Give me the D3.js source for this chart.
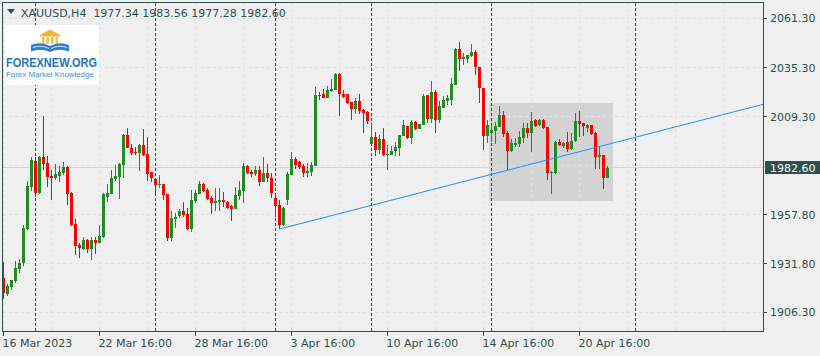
<!DOCTYPE html>
<html><head><meta charset="utf-8">
<script src="https://cdn.jsdelivr.net/npm/d3@7"></script>
<style>html,body{margin:0;padding:0;background:#f0f0f0;}svg{display:block}</style>
</head><body><svg id="c" width="820" height="356"></svg>
<script>
// ---- DATA (XAUUSD H4, bar index 0 = 16 Mar 2023 16:00) ----
const opens=[1924.6,1916.0,1919.8,1922.8,1929.2,1932.3,1950.2,1972.4,1986.1,1969.2,
1988.2,1985.0,1978.2,1977.1,1978.2,1979.8,1982.9,1969.2,1952.9,1941.8,
1939.7,1944.4,1939.7,1944.4,1942.9,1946.0,1967.1,1968.7,1976.6,1977.6,
1984.0,1999.8,1992.9,1990.8,1990.3,1994.5,1989.8,1980.3,1976.6,1973.4,
1974.0,1968.7,1945.5,1955.5,1957.1,1959.7,1958.1,1950.2,1965.0,1968.7,
1974.0,1970.8,1966.6,1963.9,1964.5,1965.5,1964.5,1962.4,1960.8,1967.6,
1970.3,1983.5,1980.3,1979.2,1981.3,1975.0,1979.8,1977.1,1966.6,1962.9,
1952.4,1965.5,1978.7,1987.1,1985.6,1983.5,1979.8,1980.3,1983.5,2020.9,
2021.4,2019.3,2023.0,2023.5,2031.9,2021.4,2021.4,2017.2,2013.5,2017.7,
2013.0,2011.9,1995.0,1998.7,1991.9,1997.7,1989.3,1989.3,1991.4,1992.9,
1999.3,2004.5,1998.2,2006.6,2003.0,2005.1,2020.9,2008.2,2022.5,2007.7,
2014.0,2017.7,2018.2,2026.1,2045.1,2039.9,2039.9,2041.4,2043.5,2035.6,
2024.6,1999.3,2000.8,2001.9,2004.0,2010.3,2000.8,1991.4,1994.5,1995.0,
1998.2,2003.5,2000.8,2007.7,2005.1,2007.7,2004.0,1979.8,1979.8,1996.1,
1994.0,1996.1,1992.4,1996.6,2007.2,2006.1,2003.5,2005.1,2000.8,1988.2,
1989.3,1977.34];
const highs=[1933.0,1921.2,1923.4,1933.4,1934.2,1952.3,1975.7,1988.2,1988.2,1988.7,
2010.0,1988.7,1981.3,1984.5,1983.4,1985.6,1983.4,1969.7,1955.5,1942.9,
1946.0,1944.9,1946.0,1946.0,1952.3,1969.2,1974.0,1981.3,1984.0,1985.0,
2000.3,2003.5,1995.0,1993.5,1995.0,2003.0,1998.7,1980.3,1977.1,1978.7,
1974.0,1968.7,1959.7,1958.7,1960.8,1964.5,1961.3,1970.8,1970.8,1975.5,
1974.5,1971.9,1967.6,1971.9,1971.9,1969.7,1965.0,1962.9,1972.4,1975.5,
1985.0,1984.0,1981.3,1983.5,1983.5,1988.2,1984.5,1979.8,1968.7,1965.5,
1961.8,1980.3,1990.8,1988.0,1986.0,1984.5,1985.0,1985.6,2025.1,2022.5,
2024.0,2025.6,2029.3,2032.5,2032.5,2023.5,2021.4,2017.2,2019.3,2021.4,
2013.5,2012.4,2006.6,2001.4,1999.8,2003.5,1994.5,1994.0,1996.1,1999.8,
2007.7,2004.5,2007.7,2007.2,2005.6,2021.4,2020.9,2028.3,2023.5,2017.7,
2020.4,2020.9,2029.8,2045.7,2048.8,2043.0,2042.0,2047.8,2044.6,2035.6,
2024.6,2007.7,2005.1,2006.6,2015.1,2012.4,2001.9,1997.7,1998.2,2001.9,
2006.1,2006.1,2011.9,2008.2,2008.2,2008.2,2004.0,1980.8,1996.6,1997.7,
1996.1,2001.4,2000.8,2011.4,2012.4,2006.1,2005.6,2005.1,2001.4,1994.0,
1989.3,1983.56];
const lows=[1913.3,1915.0,1918.1,1921.6,1927.0,1930.7,1949.7,1970.3,1967.3,1968.7,
1981.3,1972.4,1965.5,1976.1,1975.0,1978.7,1962.9,1951.8,1936.5,1935.0,
1939.2,1937.6,1933.9,1937.1,1942.9,1945.5,1964.5,1968.7,1975.5,1966.1,
1977.1,1992.9,1989.2,1989.2,1980.8,1988.7,1975.5,1975.0,1969.2,1971.8,
1965.5,1943.9,1943.9,1950.8,1956.0,1956.6,1949.7,1948.7,1963.9,1968.7,
1969.7,1965.5,1958.2,1959.7,1959.9,1962.0,1960.8,1954.5,1960.8,1965.5,
1963.9,1979.2,1977.7,1978.2,1972.9,1975.0,1975.0,1966.6,1956.6,1950.1,
1951.8,1962.9,1978.7,1981.9,1981.9,1977.7,1977.7,1978.2,1983.5,2018.2,
2019.3,2019.3,2022.5,2023.5,2009.8,2019.3,2016.1,2007.7,2010.9,2010.9,
2000.8,2005.6,1995.0,1988.7,1989.8,1988.7,1981.3,1989.3,1988.7,1988.7,
1999.3,1997.7,1995.0,2002.4,2003.0,2005.1,2006.1,2006.1,2000.8,2006.1,
2014.0,2015.6,2015.6,2026.1,2033.5,2036.7,2037.7,2040.9,2031.4,2016.7,
1991.9,1995.6,1996.1,1995.0,2004.0,1998.7,1981.3,1990.8,1993.5,1993.5,
1995.6,1998.2,1990.8,2004.0,2004.5,2003.0,1976.1,1968.7,1979.2,1994.0,
1992.9,1990.8,1991.9,1996.1,1998.7,1999.3,2001.4,1999.8,1981.9,1981.9,
1971.3,1977.28];
const closes=[1916.3,1920.2,1923.4,1929.7,1932.3,1950.8,1972.9,1986.6,1969.2,1988.2,
1984.5,1977.6,1977.1,1979.2,1980.3,1982.9,1968.7,1952.3,1941.3,1940.2,
1944.4,1939.7,1944.4,1942.9,1946.5,1968.7,1969.2,1977.1,1978.2,1984.5,
1999.8,1992.9,1990.3,1990.3,1994.5,1989.2,1979.2,1977.1,1973.4,1974.0,
1968.2,1945.5,1956.0,1956.6,1959.7,1957.6,1950.2,1965.5,1969.2,1974.0,
1970.3,1966.1,1963.9,1965.0,1965.5,1964.5,1961.3,1960.8,1968.2,1970.8,
1983.5,1979.8,1979.2,1981.3,1975.0,1979.8,1977.1,1969.2,1962.4,1952.4,
1961.3,1979.2,1987.1,1984.0,1982.9,1979.8,1980.8,1984.0,2020.9,2020.3,
2019.3,2023.5,2024.0,2031.9,2021.4,2019.8,2016.7,2013.5,2017.7,2012.4,
2011.4,2007.2,1998.7,1991.9,1997.7,1989.3,1989.8,1991.4,1993.5,1999.8,
2005.1,1998.2,2006.6,2003.0,2005.6,2020.4,2008.2,2022.5,2007.7,2015.1,
2018.2,2019.3,2026.7,2045.1,2039.9,2040.9,2042.0,2043.5,2035.6,2024.6,
1999.3,2005.1,2002.4,2004.5,2010.3,2000.3,1991.4,1995.6,1995.6,1998.7,
2003.5,2000.8,2007.2,2004.5,2007.7,2003.5,1979.8,1980.3,1996.1,1994.5,
1995.6,1992.4,1996.6,2007.2,2005.6,2004.5,2005.1,2000.3,1988.2,1989.3,
1977.1,1982.60];
const priceTicks=[2061.30,2035.30,2009.30,1983.80,1957.80,1931.80,1906.30];
const timeTickBars=[0,24,48,72,96,120,144];
const timeTickLabels=["16 Mar 2023","22 Mar 16:00","28 Mar 16:00","3 Apr 16:00","10 Apr 16:00","14 Apr 16:00","20 Apr 16:00"];
const separatorBars=[8,38,68,92,122,158];
const trendBars=[69,151], trendValues=[1950.2,1994.8];
const zoneBars=[121.4,152.4], zoneValues=[2016.6,1965.1];
const symbolText="XAUUSD,H4";
const lastPrice=1982.60;

// ---- SETUP ----
const svg=d3.select("#c");
const FONT="DejaVu Sans";
const INK="#2f4f4f";
const L=2.5,R=763.5,T=2.5,B=331.5;
const x=d3.scaleLinear().domain([0,190]).range([3.5,763.5]);
const y=d3.scaleLinear().domain([1906.3,2061.3]).range([312.3,18.3]);
const snap=v=>Math.floor(v)+0.5;

svg.append("rect").attr("width",820).attr("height",356).attr("fill","#f0f0f0");

svg.append("defs").append("clipPath").attr("id","plot")
  .append("rect").attr("x",L+0.5).attr("y",T+0.5).attr("width",R-L-1).attr("height",B-T-1);

const plot=svg.append("g").attr("clip-path","url(#plot)");

// zone rectangle (background object)
plot.append("rect")
  .attr("x",x(zoneBars[0])).attr("width",x(zoneBars[1])-x(zoneBars[0]))
  .attr("y",y(zoneValues[0])).attr("height",y(zoneValues[1])-y(zoneValues[0]))
  .attr("fill","#d3d3d3").attr("shape-rendering","crispEdges");

// grid
const gridBars=d3.range(0,191,12);
plot.selectAll(".vg").data(gridBars).join("line")
  .attr("x1",d=>x(d)).attr("x2",d=>x(d)).attr("y1",T).attr("y2",B)
  .attr("stroke","#e2e2e2").attr("stroke-dasharray","3,3").attr("shape-rendering","crispEdges");
plot.selectAll(".hg").data(priceTicks).join("line")
  .attr("x1",L).attr("x2",R).attr("y1",d=>snap(y(d))).attr("y2",d=>snap(y(d)))
  .attr("stroke","#e2e2e2").attr("stroke-dasharray","3,3").attr("shape-rendering","crispEdges");

// price line
plot.append("line").attr("x1",L).attr("x2",R)
  .attr("y1",snap(y(lastPrice))).attr("y2",snap(y(lastPrice)))
  .attr("stroke","#d6d6d6").attr("shape-rendering","crispEdges");

// period separators
plot.selectAll(".sep").data(separatorBars).join("line")
  .attr("x1",d=>x(d)).attr("x2",d=>x(d)).attr("y1",T).attr("y2",B)
  .attr("stroke",INK).attr("stroke-dasharray","3,2").attr("shape-rendering","crispEdges");

// candles
const bars=d3.range(opens.length);
const col=i=>closes[i]>=opens[i]?"#228b22":"#ff0000";
const cg=plot.append("g").attr("shape-rendering","crispEdges");
cg.selectAll(".wick").data(bars).join("line")
  .attr("x1",i=>x(i)).attr("x2",i=>x(i))
  .attr("y1",i=>y(highs[i])).attr("y2",i=>y(lows[i]))
  .attr("stroke",col);
cg.selectAll(".body").data(bars).join("rect")
  .attr("x",i=>x(i)-1.5).attr("width",3)
  .attr("y",i=>y(Math.max(opens[i],closes[i])))
  .attr("height",i=>Math.max(1,Math.abs(y(opens[i])-y(closes[i]))))
  .attr("fill",col);

// trend line (ray to the right)
const slope=(trendValues[1]-trendValues[0])/(trendBars[1]-trendBars[0]);
const endBar=x.domain()[1];
plot.append("line")
  .attr("x1",x(trendBars[0])).attr("y1",y(trendValues[0]))
  .attr("x2",x(endBar)).attr("y2",y(trendValues[0]+slope*(endBar-trendBars[0])))
  .attr("stroke","#1e90ff").attr("stroke-width",1);

// frame
svg.append("rect").attr("x",L).attr("y",T).attr("width",R-L).attr("height",B-T)
  .attr("fill","none").attr("stroke",INK).attr("shape-rendering","crispEdges");

// right price axis
const ya=svg.append("g");
const shown=priceTicks.filter(v=>Math.abs(y(v)-y(lastPrice))>9);
ya.selectAll("line").data(shown).join("line")
  .attr("x1",R).attr("x2",R+3).attr("y1",d=>snap(y(d))).attr("y2",d=>snap(y(d)))
  .attr("stroke",INK).attr("shape-rendering","crispEdges");
ya.selectAll("text").data(shown).join("text")
  .attr("x",770).attr("y",d=>y(d)+4)
  .attr("font-family",FONT).attr("font-size",11).attr("fill",INK)
  .text(d=>d3.format(".2f")(d));

// current price label
svg.append("rect").attr("x",765).attr("y",snap(y(lastPrice))-6.5).attr("width",55).attr("height",13).attr("fill",INK);
svg.append("text").attr("x",770).attr("y",y(lastPrice)+4).attr("font-family",FONT).attr("font-size",11)
  .attr("fill","#ffffff").text(d3.format(".2f")(lastPrice));

// bottom time axis
const xa=svg.append("g");
xa.selectAll("line").data(timeTickBars).join("line")
  .attr("x1",d=>x(d)).attr("x2",d=>x(d)).attr("y1",B).attr("y2",B+4)
  .attr("stroke",INK).attr("shape-rendering","crispEdges");
xa.selectAll("text").data(timeTickBars).join("text")
  .attr("x",d=>x(d)-1).attr("y",347)
  .attr("font-family",FONT).attr("font-size",11).attr("fill",INK)
  .text((d,i)=>timeTickLabels[i]);

// header
svg.append("path").attr("d","M7,9 L15,9 L11,14 Z").attr("fill",INK);
svg.append("text").attr("x",21).attr("y",17).attr("font-family",FONT).attr("font-size",11).attr("fill",INK)
  .attr("xml:space","preserve")
  .text(symbolText+"  "+[opens[opens.length-1],highs[highs.length-1],lows[lows.length-1],closes[closes.length-1]].map(d3.format(".2f")).join(" "));

// logo
const lg=svg.append("g");
lg.append("rect").attr("x",5).attr("y",25).attr("width",94).attr("height",60).attr("fill","#ffffff");
lg.append("path").attr("d","M40,35 L50,29.5 L60,35 Z").attr("fill","#f2b431");
lg.append("rect").attr("x",40).attr("y",35).attr("width",20).attr("height",1.5).attr("fill","#f2b431");
[42,46.5,51,55.5].forEach(cx=>lg.append("rect").attr("x",cx).attr("y",37).attr("width",2.5).attr("height",7).attr("fill","#f5c242"));
lg.append("path").attr("d","M31,45 Q41,41 50,46 L50,52 Q41,48 31,51.5 Z").attr("fill","#2f7fd0");
lg.append("path").attr("d","M69,45 Q59,41 50,46 L50,52 Q59,48 69,51.5 Z").attr("fill","#2f7fd0");
lg.append("path").attr("d","M33,47.5 Q41,44.5 49,48.5 M51,48.5 Q59,44.5 67,47.5").attr("stroke","#ffffff").attr("stroke-width",0.8).attr("fill","none");
lg.append("text").attr("x",6).attr("y",66.5).attr("font-family","Liberation Sans").attr("font-weight","bold")
  .attr("font-size",12.5).attr("fill","#1e73be").attr("textLength",91).attr("lengthAdjust","spacingAndGlyphs").text("FOREXNEW.ORG");
lg.append("text").attr("x",6).attr("y",77).attr("font-family","Liberation Sans")
  .attr("font-size",7).attr("fill","#3c8ed3").attr("textLength",90).attr("lengthAdjust","spacingAndGlyphs").text("Forex Market Knowledge.");
</script></body></html>
